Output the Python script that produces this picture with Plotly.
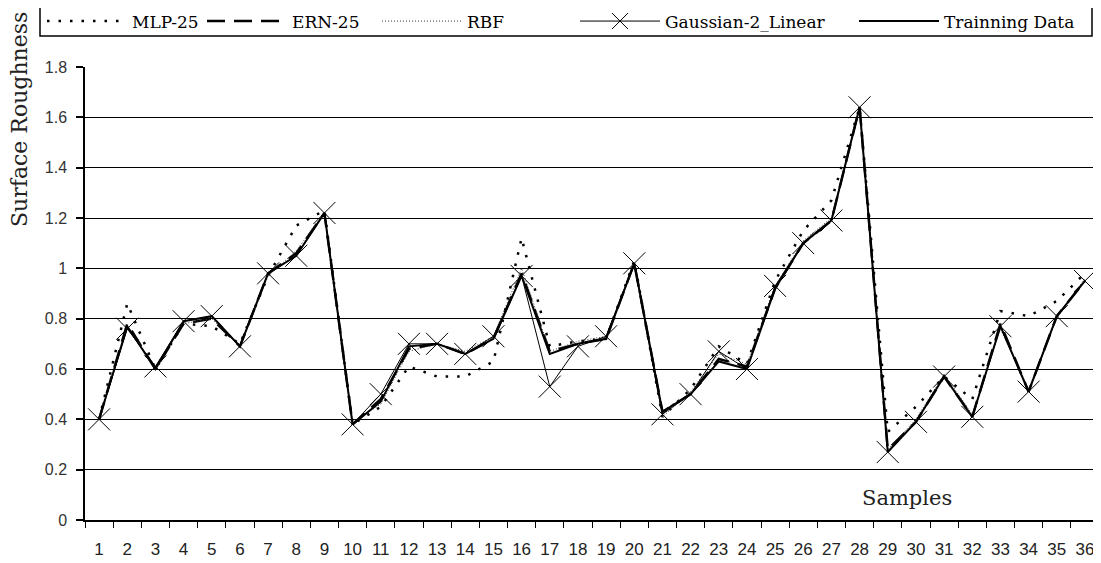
import plotly.graph_objects as go

samples = list(range(1, 37))
tick_labels = [str(s) for s in samples]

mlp_25 = [0.40, 0.86, 0.60, 0.78, 0.77, 0.70, 0.97, 1.17, 1.23, 0.38, 0.45, 0.61,
          0.57, 0.57, 0.63, 1.12, 0.69, 0.71, 0.72, 1.03, 0.41, 0.52, 0.69, 0.62,
          0.95, 1.15, 1.27, 1.64, 0.35, 0.45, 0.57, 0.48, 0.83, 0.81, 0.87, 0.98]
ern_25 = [0.40, 0.78, 0.60, 0.78, 0.80, 0.69, 0.98, 1.06, 1.22, 0.38, 0.48, 0.68,
          0.70, 0.66, 0.72, 0.98, 0.67, 0.70, 0.72, 1.02, 0.43, 0.50, 0.64, 0.61,
          0.92, 1.10, 1.19, 1.64, 0.28, 0.39, 0.57, 0.41, 0.78, 0.51, 0.81, 0.95]
rbf = [0.40, 0.76, 0.61, 0.78, 0.80, 0.69, 0.97, 1.07, 1.22, 0.39, 0.46, 0.67,
       0.70, 0.67, 0.73, 1.00, 0.67, 0.71, 0.73, 1.02, 0.41, 0.51, 0.66, 0.62,
       0.93, 1.11, 1.20, 1.64, 0.28, 0.40, 0.58, 0.42, 0.76, 0.52, 0.80, 0.96]
gaussian_2_linear = [0.40, 0.76, 0.61, 0.79, 0.81, 0.69, 0.98, 1.05, 1.22, 0.38, 0.50, 0.70,
                     0.70, 0.66, 0.73, 0.97, 0.53, 0.69, 0.73, 1.02, 0.42, 0.50, 0.67, 0.60,
                     0.93, 1.10, 1.19, 1.64, 0.27, 0.39, 0.57, 0.41, 0.77, 0.51, 0.81, 0.95]
training = [0.40, 0.77, 0.60, 0.79, 0.81, 0.69, 0.98, 1.05, 1.22, 0.38, 0.47, 0.69,
            0.70, 0.66, 0.72, 0.97, 0.66, 0.70, 0.72, 1.02, 0.43, 0.50, 0.63, 0.60,
            0.92, 1.10, 1.19, 1.64, 0.27, 0.39, 0.57, 0.41, 0.77, 0.51, 0.81, 0.95]

OFF = 8  # page body margin
W, H = 1101 - OFF, 563 - OFF
ML, MR, MT = 85 - OFF, 0, 67 - OFF
PH = 453
MB = H - MT - PH
PW = W - ML - MR

def px_x(p):  # page pixel -> paper x
    return (p - OFF - ML) / PW

def px_y(p):  # page pixel -> paper y
    return 1 + (MT - (p - OFF)) / PH

serif = "DejaVu Serif"
fig = go.Figure()

series = [
    ("MLP-25", mlp_25, dict(color="black", width=2.5, dash="2.5px,9px"), None, "legend", 50),
    ("ERN-25", ern_25, dict(color="black", width=2.5, dash="18px,9px"), None, "legend2", 210),
    ("RBF", rbf, dict(color="#333", width=1, dash="1px,2px"), None, "legend3", 385),
    ("Gaussian-2_Linear", gaussian_2_linear, dict(color="black", width=1),
     dict(symbol="x-thin", size=22, line=dict(color="black", width=1)), "legend4", 583),
    ("Trainning Data", training, dict(color="black", width=2), None, "legend5", 862),
]

legend_layouts = {}
for name, vals, line, marker, lg, xpos in series:
    fig.add_trace(go.Scatter(
        x=samples, y=vals, name=name,
        mode="lines+markers" if marker else "lines",
        line=line, marker=marker, legend=lg,
    ))
    legend_layouts[lg] = dict(
        x=px_x(xpos - 8), y=px_y(21.5), xanchor="left", yanchor="middle",
        orientation="h", bgcolor="rgba(0,0,0,0)", borderwidth=0,
        itemwidth=80, font=dict(family=serif, size=17, color="black"),
    )

fig.update_layout(**legend_layouts)

fig.add_shape(type="rect", xref="paper", yref="paper",
              x0=px_x(40), x1=px_x(1092), y0=px_y(36), y1=px_y(7),
              line=dict(color="black", width=1.5), layer="above")

fig.add_annotation(text="Surface Roughness", xref="paper", yref="paper",
                   x=px_x(19), y=px_y(120), textangle=-90, showarrow=False,
                   xanchor="center", yanchor="middle",
                   font=dict(family=serif, size=22, color="#222"))
fig.add_annotation(text="Samples", xref="paper", yref="paper",
                   x=px_x(907), y=px_y(498), showarrow=False,
                   xanchor="center", yanchor="middle",
                   font=dict(family=serif, size=21, color="#222"))

fig.update_xaxes(
    range=[0.5, 36.57], tickmode="array", tickvals=samples, ticktext=tick_labels,
    ticks="", showgrid=False, showline=True, linecolor="black", linewidth=1.5,
    tickfont=dict(family="Liberation Sans Narrow, Liberation Sans", size=17, color="#222"),
    ticklabelstandoff=13, ticklabeloverflow="allow",
    minor=dict(tickmode="linear", tick0=0.5, dtick=1, ticks="outside", ticklen=6,
               tickcolor="black", tickwidth=1, showgrid=False),
    zeroline=False,
)
fig.update_yaxes(
    range=[0, 1.8], tickmode="linear", tick0=0, dtick=0.2, tickformat="~g",
    ticks="outside", ticklen=7, tickcolor="black", tickwidth=1.5,
    showgrid=True, gridcolor="black", gridwidth=1.3,
    showline=True, linecolor="black", linewidth=1.5, zeroline=False,
    tickfont=dict(family="Liberation Sans", size=16, color="#333"),
    ticklabelstandoff=6,
)
fig.update_layout(
    width=W, height=H, margin=dict(l=ML, r=MR, t=MT, b=MB, autoexpand=False),
    paper_bgcolor="white", plot_bgcolor="white", showlegend=True,
)
fig.write_html("out.html")
